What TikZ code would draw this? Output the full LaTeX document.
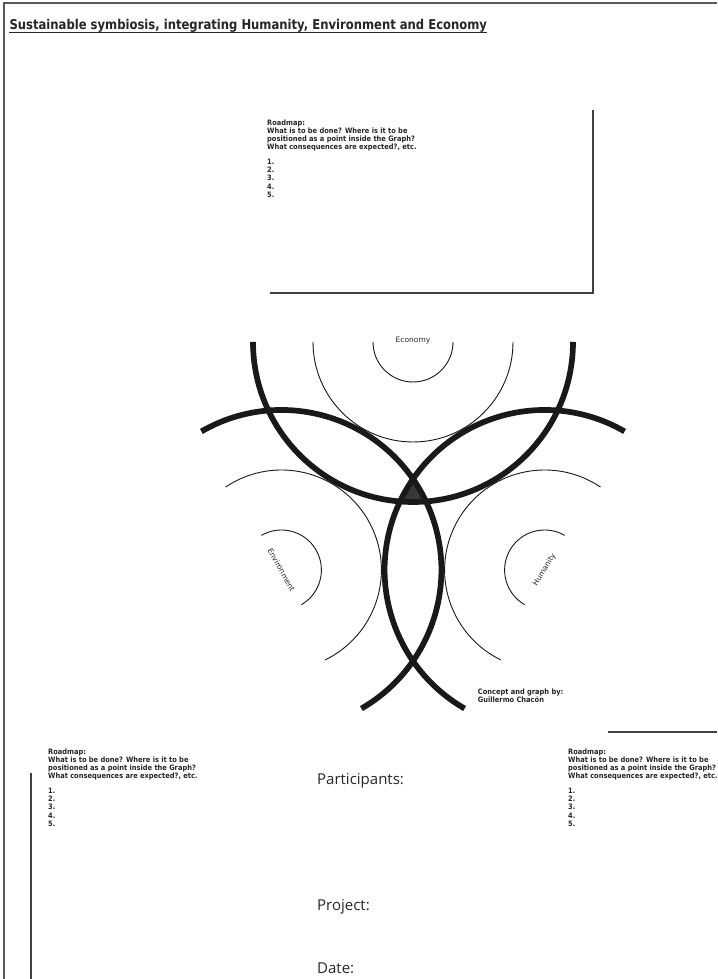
\documentclass[tikz,border=0pt]{standalone}
\usepackage{fontspec}
\setmainfont{DejaVu Sans}
\newfontfamily\titlefont[FakeStretch=0.86]{DejaVu Sans}
\newfontfamily\smallbold[FakeStretch=0.9]{DejaVu Sans}
\newfontfamily\formfont{Open Sans}
\newcommand{\rmblock}[3]{%
  \node[roadtext] (#1-l1) at (#2,#3) {Roadmap:};
  \node[roadtext] (#1-l2) at (#2,#3-8) {What is to be done? Where is it to be};
  \node[roadtext] (#1-l3) at (#2,#3-16) {positioned as a point inside the Graph?};
  \node[roadtext] (#1-l4) at (#2,#3-24) {What consequences are expected?, etc.};
  \node[roadtext] (#1-n1) at (#2,#3-39.6) {1.};
  \node[roadtext] (#1-n2) at (#2,#3-47.7) {2.};
  \node[roadtext] (#1-n3) at (#2,#3-55.8) {3.};
  \node[roadtext] (#1-n4) at (#2,#3-63.9) {4.};
  \node[roadtext] (#1-n5) at (#2,#3-72) {5.};
}
\begin{document}
\begin{tikzpicture}[x=1pt,y=1pt]
\tikzset{
  frameline/.style={draw=black!65, line width=2pt},
  boxline/.style={draw=black!75, line width=1.4pt},
  thickarc/.style={draw=black!90, line width=5.7pt},
  thinarc/.style={draw=black!90, line width=0.9pt},
  roadtext/.style={anchor=base west, inner sep=0pt, text=black!85,
    font=\smallbold\bfseries\fontsize{7.4}{8.1}\selectfont},
  formtext/.style={anchor=base west, inner sep=0pt, text=black!85,
    font=\formfont\fontsize{15}{18}\selectfont},
  ringlabel/.style={inner sep=0pt, text=black!85, font=\fontsize{7.5}{9}\selectfont}
}
\useasboundingbox (0,0) rectangle (717,979);
\fill[white] (0,0) rectangle (717,979);

% page frame (top and left)
\coordinate (ftl) at (4,976);
\coordinate (ftr) at (717,976);
\coordinate (fbl) at (4,0);
\draw[frameline] (ftr) -- (ftl) -- (fbl);

% title
\node[anchor=base west, inner sep=0pt, text=black!85,
  font=\titlefont\bfseries\fontsize{13.5}{16}\selectfont] (title) at (9.3,949)
  {Sustainable symbiosis, integrating Humanity, Environment and Economy};
\draw[black!85, line width=1.3pt] ([yshift=-2.6pt]title.base west) -- ([yshift=-2.6pt]title.base east);

% top roadmap box
\coordinate (tb1) at (593,869);
\coordinate (tb2) at (593,686);
\coordinate (tb3) at (270,686);
\draw[boxline] (tb1) -- (tb2) -- (tb3);
\rmblock{roadtop}{267}{853.8}

% centres of the three rings
\coordinate (econ) at (413,637);
\coordinate (env) at (281.4,409);
\coordinate (hum) at (544.6,409);

% central dark triangle (intersection of the three big discs)
\begin{scope}
  \clip (econ) circle (160);
  \clip (env) circle (160);
  \fill[black!78] (hum) circle (160);
\end{scope}

% thin rings
\draw[thinarc] ([shift={(180:100)}]econ) arc[start angle=180, end angle=360, radius=100];
\draw[thinarc] ([shift={(180:40)}]econ) arc[start angle=180, end angle=360, radius=40];
\draw[thinarc] ([shift={(-64:100)}]env) arc[start angle=-64, end angle=124, radius=100];
\draw[thinarc] ([shift={(-60:40)}]env) arc[start angle=-60, end angle=120, radius=40];
\draw[thinarc] ([shift={(56:100)}]hum) arc[start angle=56, end angle=244, radius=100];
\draw[thinarc] ([shift={(60:40)}]hum) arc[start angle=60, end angle=240, radius=40];

% thick circles
\draw[thickarc] ([shift={(180:160)}]econ) arc[start angle=180, end angle=360, radius=160];
\draw[thickarc] ([shift={(-60:160)}]env) arc[start angle=-60, end angle=120, radius=160];
\draw[thickarc] ([shift={(60:160)}]hum) arc[start angle=60, end angle=240, radius=160];

% ring labels
\node[ringlabel] (econlabel) at (413,638) {Economy};
\node[ringlabel, rotate=-61] (envlabel) at (env) {Environment};
\node[ringlabel, rotate=59] (humlabel) at (hum) {Humanity};

% credit
\node[roadtext] (credit1) at (477.7,284) {Concept and graph by:};
\node[roadtext] (credit2) at (477.7,276) {Guillermo Chacón};

% right short line
\coordinate (rl1) at (608,247);
\coordinate (rl2) at (717,247);
\draw[boxline] (rl1) -- (rl2);

% left vertical line
\coordinate (ll1) at (31,206);
\coordinate (ll2) at (31,0);
\draw[boxline] (ll1) -- (ll2);

% lower roadmaps
\rmblock{roadleft}{48}{224.8}
\rmblock{roadright}{568}{224.8}

% form fields
\node[formtext] (participants) at (317,194.5) {Participants:};
\node[formtext] (project) at (317,68.5) {Project:};
\node[formtext] (date) at (317,5.7) {Date:};
\end{tikzpicture}
\end{document}
